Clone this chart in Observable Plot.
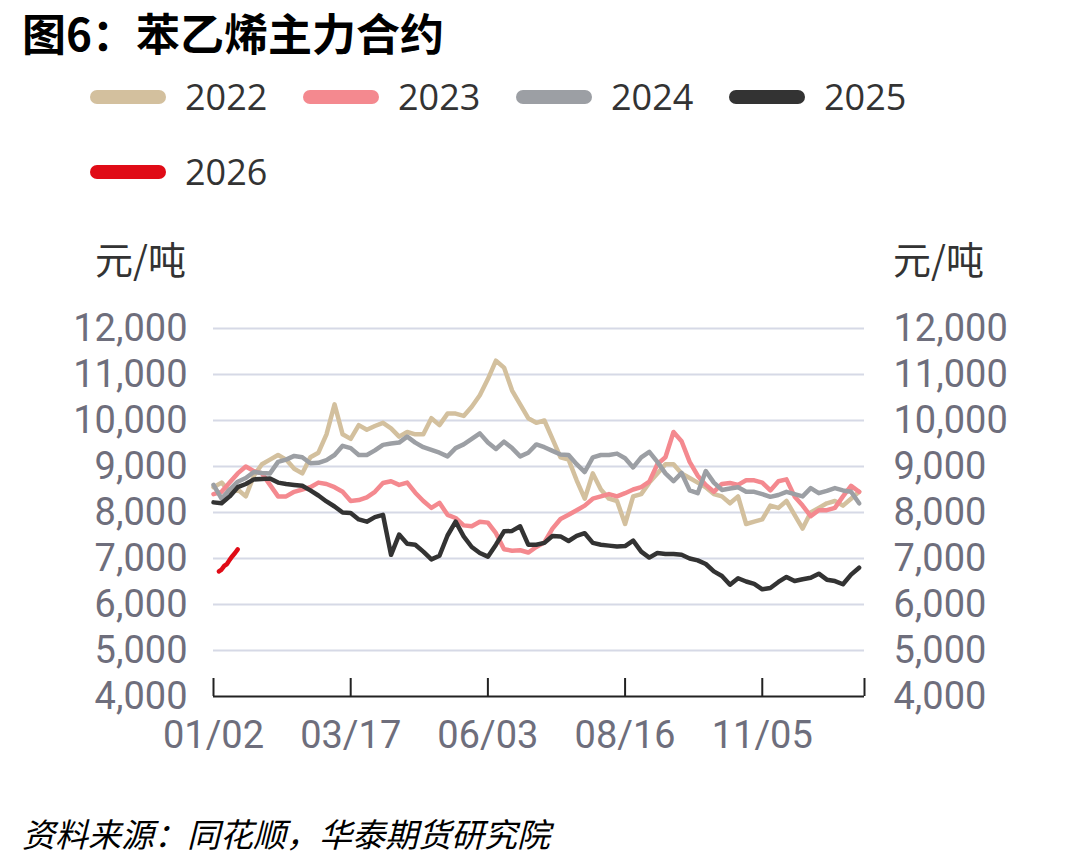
<!DOCTYPE html>
<html>
<head>
<meta charset="utf-8">
<script src="https://cdn.jsdelivr.net/npm/d3@7"></script>
<script src="https://cdn.jsdelivr.net/npm/@observablehq/plot@0.6"></script>
<style>
  body { margin: 0; background: #fff; }
  #wrap { position: relative; width: 1078px; height: 866px; overflow: hidden; background: #fff; }
  .title { position: absolute; left: 22px; top: 0px; font: bold 44px/64px "Noto Sans CJK SC", sans-serif; color: #000; }
  .legend-item { position: absolute; display: flex; align-items: center; height: 40px; }
  .legend-swatch { width: 76px; height: 14px; border-radius: 7px; }
  .legend-label { margin-left: 19px; font: 36px/40px "Open Sans", "Noto Sans CJK SC", sans-serif; color: #333; }
  .unit { position: absolute; top: 235px; font: 38px/46px "Noto Sans CJK SC", sans-serif; color: #333; }
  .source { position: absolute; left: 22px; top: 811px; font: italic 33px/44px "Noto Sans CJK SC", sans-serif; color: #000; }
  #chart { position: absolute; left: 0; top: 230px; }
</style>
</head>
<body>
<div id="wrap">
  <div class="title">图6：苯乙烯主力合约</div>
  <div id="legend"></div>
  <div class="unit" style="left:95px">元/吨</div>
  <div class="unit" style="left:893px">元/吨</div>
  <div id="chart"></div>
  <div class="source">资料来源：同花顺，华泰期货研究院</div>
</div>
<script>
// Styrene main contract, yuan/ton, by trading day of the year.
// Series are sampled every `step` trading days starting at 01/02.
const years = ["2022", "2023", "2024", "2025", "2026"];
const colors = ["#d3c09e", "#f4898f", "#9c9fa4", "#333333", "#e00b16"];
const step = 3;

const v2022 = [
  8550, 8650, 8450, 8500, 8350, 8800, 9050, 9150, 9250, 9150, 8950, 8850, 9200, 9300, 9700, 10350, 9700, 9600, 9900, 9800,
  9880, 9950, 9830, 9650, 9750, 9700, 9700, 10050, 9900, 10150, 10150, 10100, 10300, 10550, 10900, 11300, 11150, 10650, 10350, 10050,
  9950, 10000, 9600, 9200, 9150, 8700, 8300, 8850, 8500, 8300, 8250, 7750, 8350, 8400, 8650, 8850, 9050, 9050, 8850, 8750,
  8650, 8550, 8400, 8350, 8200, 8350, 7750, 7800, 7850, 8150, 8100, 8250, 7950, 7650, 8000, 8100, 8200, 8250, 8150, 8300,
  8450
];
const v2023 = [
  8400, 8450, 8650, 8850, 9000, 8900, 8850, 8600, 8350, 8350, 8450, 8500, 8550, 8650, 8620, 8550, 8450, 8250, 8270, 8330,
  8450, 8640, 8680, 8600, 8650, 8430, 8250, 8100, 8210, 7950, 7880, 7720, 7700, 7800, 7780, 7550, 7200, 7170, 7180, 7130,
  7250, 7350, 7650, 7860, 7950, 8050, 8150, 8300, 8350, 8400, 8350, 8420, 8500, 8550, 8670, 9050, 9200, 9750, 9550, 9100,
  8800, 8600, 8450, 8620, 8640, 8600, 8700, 8700, 8650, 8480, 8680, 8720, 8350, 8150, 7920, 8050, 8050, 8100, 8350, 8580,
  8450
];
const v2024 = [
  8600, 8300, 8500, 8670, 8750, 8880, 8860, 8850, 9100, 9150, 9230, 9200, 9070, 9080, 9140, 9250, 9450, 9400, 9250, 9250,
  9350, 9470, 9500, 9520, 9650, 9520, 9420, 9360, 9300, 9220, 9400, 9480, 9600, 9720, 9520, 9380, 9540, 9400, 9220, 9300,
  9480, 9420, 9340, 9260, 9250, 9050, 8880, 9200, 9250, 9250, 9280, 9180, 8980, 9200, 9320, 9100, 8850, 8680, 8860, 8480,
  8420, 8900, 8650, 8490, 8520, 8550, 8450, 8450, 8400, 8340, 8380, 8450, 8400, 8350, 8530, 8420, 8470, 8530, 8480, 8450,
  8200
];
const v2025 = [
  8220, 8200, 8350, 8550, 8620, 8720, 8730, 8740, 8650, 8620, 8600, 8580, 8480, 8370, 8240, 8130, 8000, 7990, 7850, 7800,
  7900, 7950, 7080, 7520, 7320, 7300, 7150, 6980, 7060, 7500, 7800, 7480, 7250, 7120, 7040, 7300, 7590, 7600, 7700, 7300,
  7300, 7340, 7490, 7480, 7380, 7490, 7550, 7340, 7300, 7280, 7260, 7270, 7390, 7150, 7020, 7120, 7100, 7100, 7080, 7000,
  6960, 6880, 6720, 6620, 6430, 6570, 6500, 6450, 6330, 6360, 6490, 6600, 6510, 6550, 6580, 6670, 6540, 6510, 6440, 6650,
  6800
];
// 2026 is only a few days in, so it keeps its own day numbers
const days2026 = [2, 3, 4, 5, 6, 7, 8, 9];
const v2026 = [6720, 6760, 6840, 6880, 6970, 7050, 7120, 7200];

const yTicks = [4000, 5000, 6000, 7000, 8000, 9000, 10000, 11000, 12000];
const xTickDays = [0, 51, 102, 153, 204, 242];
const xTickLabels = ["01/02", "03/17", "06/03", "08/16", "11/05", ""];

const rows = [];
[[years[0], v2022], [years[1], v2023], [years[2], v2024], [years[3], v2025]].forEach(([year, vals]) => {
  vals.forEach((value, i) => rows.push({year, day: i * step, value}));
});
days2026.forEach((day, i) => rows.push({year: years[4], day, value: v2026[i]}));

// legend: four entries per row
const legend = document.getElementById("legend");
years.forEach((y, k) => {
  const item = document.createElement("div");
  item.className = "legend-item";
  const row = Math.floor(k / 4), col = k % 4;
  item.style.left = (90 + col * 213) + "px";
  item.style.top = (77 + row * 75) + "px";
  item.innerHTML = `<div class="legend-swatch" style="background:${colors[k]}"></div><div class="legend-label">${y}</div>`;
  legend.appendChild(item);
});

const W = 1078, H = 540, mT = 98, mB = 74;
const tickFont = "Roboto, 'Open Sans', sans-serif";
const tickColor = "#6e6e7c";

const chart = Plot.plot({
  width: W,
  height: H,
  marginLeft: 213,
  marginRight: 214,
  marginTop: mT,
  marginBottom: mB,
  style: {fontFamily: tickFont, background: "transparent", overflow: "visible"},
  x: {domain: [0, 242]},
  y: {domain: [4000, 12000]},
  color: {domain: years, range: colors},
  marks: [
    Plot.gridY(yTicks.slice(1), {stroke: "#d6d9e6", strokeWidth: 2, strokeOpacity: 1}),
    Plot.axisY(yTicks, {anchor: "left", tickSize: 0, tickPadding: 26, tickFormat: d3.format(","),
      fontSize: 38, fill: tickColor, fontFamily: tickFont, label: null}),
    Plot.axisY(yTicks, {anchor: "right", tickSize: 0, tickPadding: 29, tickFormat: d3.format(","),
      fontSize: 38, fill: tickColor, fontFamily: tickFont, label: null}),
    Plot.axisX(xTickDays, {anchor: "bottom", tickSize: 0, tickPadding: 25,
      tickFormat: (d) => xTickLabels[xTickDays.indexOf(d)],
      fontSize: 38, fill: tickColor, fontFamily: tickFont, label: null}),
    Plot.ruleX(xTickDays, {stroke: "#222", strokeWidth: 2, insetTop: H - mT - mB - 18}),
    Plot.ruleY([4000], {stroke: "#222", strokeWidth: 2}),
    Plot.line(rows, {x: "day", y: "value", z: "year", stroke: "year", strokeWidth: 4.5,
      strokeLinejoin: "round", strokeLinecap: "round"})
  ]
});
document.getElementById("chart").appendChild(chart);
</script>
</body>
</html>
